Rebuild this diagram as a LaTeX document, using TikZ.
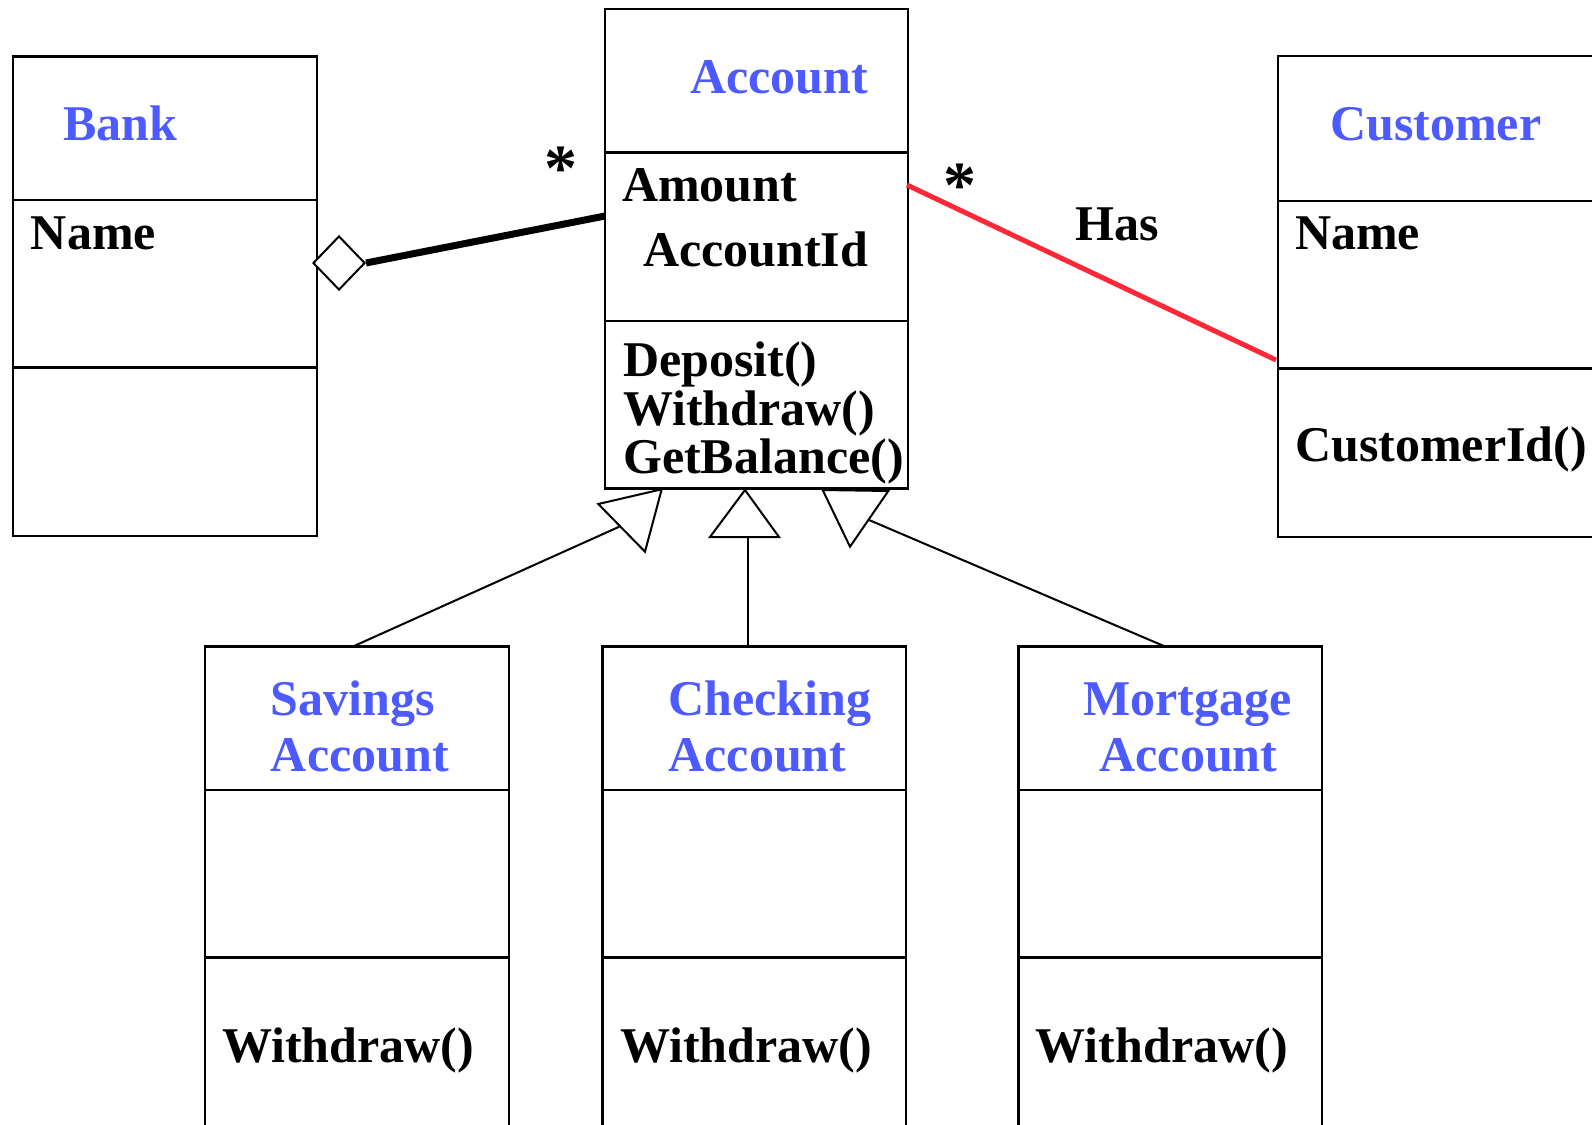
\documentclass[tikz,border=0pt]{standalone}
\usepackage{fontspec}
\setmainfont{Liberation Serif}
\usetikzlibrary{shapes.geometric}
\definecolor{umlblue}{RGB}{76,90,255}
\definecolor{umlred}{RGB}{255,40,56}
\begin{document}
\begin{tikzpicture}[x=1pt,y=-1pt,line join=miter,
  box/.style={draw,line width=2.4pt,rectangle,inner sep=0pt,outer sep=0pt,anchor=north west},
  divider/.style={line width=2.4pt},
  lbl/.style={inner sep=0pt,anchor=base west,font=\fontsize{50}{50}\selectfont\bfseries},
  title/.style={lbl,text=umlblue},
  mult/.style={inner sep=0pt,anchor=base,font=\fontsize{66}{66}\selectfont\bfseries},
  aggline/.style={line width=7pt},
  hasline/.style={line width=5pt,umlred},
  genline/.style={line width=2pt},
  genhead/.style={line width=2pt,fill=white},
]
\clip (0,0) rectangle (1592,1124);
\fill[white] (0,0) rectangle (1592,1124);

% ---- boxes ----
\node[box,minimum width=304pt,minimum height=479.3pt] (bank) at (12.7,56.7) {};
\draw[divider] (12.7,200) -- (316.7,200);
\draw[divider] (12.7,367.5) -- (316.7,367.5);

\node[box,minimum width=303pt,minimum height=479.3pt] (account) at (605,9) {};
\draw[divider] (605,152.3) -- (908,152.3);
\draw[divider] (605,320.7) -- (908,320.7);

\node[box,minimum width=330pt,minimum height=480.7pt] (customer) at (1277.7,56) {};
\draw[divider] (1277.7,200.7) -- (1607.7,200.7);
\draw[divider] (1277.7,368.3) -- (1607.7,368.3);

\node[box,minimum width=304pt,minimum height=520pt] (savings) at (205,646.5) {};
\draw[divider] (205,790) -- (509,790);
\draw[divider] (205,957.4) -- (509,957.4);

\node[box,minimum width=303.5pt,minimum height=520pt] (checking) at (602.5,646.5) {};
\draw[divider] (602.5,790) -- (906,790);
\draw[divider] (602.5,957.4) -- (906,957.4);

\node[box,minimum width=303.4pt,minimum height=520pt] (mortgage) at (1018.3,646.5) {};
\draw[divider] (1018.3,790) -- (1321.7,790);
\draw[divider] (1018.3,957.4) -- (1321.7,957.4);

% ---- texts ----
\node[title] (bankT) at (63,140.7) {Bank};
\node[lbl] (bankA) at (30.7,249.3) {Name};

\node[title] (accT) at (690,93) {Account};
\node[lbl] (accA1) at (622,201) {Amount};
\node[lbl] (accA2) at (643,266.7) {AccountId};
\node[lbl] (accM1) at (623,376.7) {Deposit()};
\node[lbl] (accM2) at (623,425) {Withdraw()};
\node[lbl] (accM3) at (623,473) {GetBalance()};

\node[title] (custT) at (1330,140) {Customer};
\node[lbl] (custA) at (1295,249) {Name};
\node[lbl] (custM) at (1295,461.7) {CustomerId()};

\node[title] (savT1) at (270.7,715) {Savings};
\node[title] (savT2) at (270.7,771.7) {Account};
\node[lbl] (savM) at (222,1062) {Withdraw()};

\node[title] (chkT1) at (668.3,715) {Checking};
\node[title] (chkT2) at (668.3,771.7) {Account};
\node[lbl] (chkM) at (620,1062) {Withdraw()};

\node[title] (mrtT1) at (1083.3,715) {Mortgage};
\node[title] (mrtT2) at (1099.3,771.7) {Account};
\node[lbl] (mrtM) at (1035.6,1062) {Withdraw()};

\node[mult] (star1) at (561,190) {*};
\node[mult] (star2) at (960,207) {*};
\node[lbl] (has) at (1075,240) {Has};

% ---- connector end points ----
\coordinate (accAgg) at (605,216);
\coordinate (accHas) at (907,185);
\coordinate (custHas) at (1276,360);
\coordinate (savTop) at (353,646.5);
\coordinate (chkTop) at (748,646.5);
\coordinate (mrtTop) at (1165,646.5);
\coordinate (genL) at (619.3,526.7);
\coordinate (genM) at (748,537);
\coordinate (genR) at (866.7,519);

% ---- aggregation ----
\node[diamond,draw,line width=2pt,fill=white,minimum width=52pt,minimum height=54pt,inner sep=0pt] (agg) at (339,263) {};
\draw[aggline] (agg.east) -- (accAgg);

% ---- association ----
\draw[hasline] (accHas) -- (custHas);

% ---- generalisations ----
\draw[genline] (savTop) -- (genL);
\draw[genline] (chkTop) -- (genM);
\draw[genline] (mrtTop) -- (genR);
\draw[genhead] (598.3,504) -- (645,551.7) -- (661.7,489.3) -- cycle;
\draw[genhead] (745,490) -- (710,537) -- (779,537) -- cycle;
\draw[genhead] (822.7,490) -- (888.3,491) -- (850,546.7) -- cycle;
\end{tikzpicture}
\end{document}
